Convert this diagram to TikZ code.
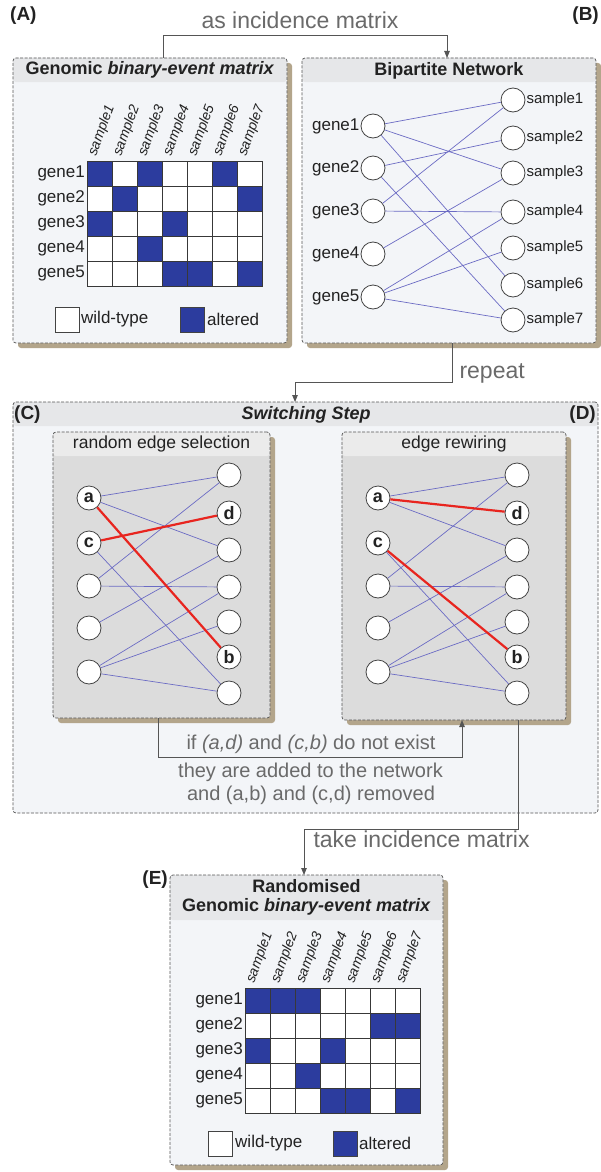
\documentclass[tikz,border=0pt]{standalone}
\usepackage{fontspec}
\setmainfont{Liberation Sans}
\usetikzlibrary{arrows.meta,shadows}
\definecolor{pfill}{HTML}{F3F5F8}
\definecolor{bandc}{HTML}{E6E7E9}
\definecolor{innerc}{HTML}{DCDCDC}
\definecolor{innerband}{HTML}{EBEBEB}
\definecolor{shadc}{HTML}{B3A58B}
\definecolor{bordc}{HTML}{555555}
\definecolor{altc}{HTML}{2C3C9E}
\definecolor{edgec}{HTML}{6B6BC4}
\definecolor{redc}{HTML}{E8251F}
\definecolor{greyt}{HTML}{6A6A6A}
\definecolor{darkt}{HTML}{222222}
\newcommand\fs[1]{\fontsize{#1}{#1}\selectfont}
\newcommand\bematrix[4]{%
  \foreach \row [count=\r] in {#4} {
    \node[rowl] (#1-g\r) at ({#2-1},{#3+25*\r-12.5}) {gene\r};
    \foreach \v [count=\c] in \row {
      \ifnum\v=1 \def\cc{altc}\else\def\cc{white}\fi
      \node[cell, fill=\cc] (#1-\r-\c) at ({#2+25*\c-25},{#3+25*\r-25}) {};
    }
  }
  \foreach \c in {1,...,7} \node[coll] (#1-s\c) at ({#2+25*\c-16},{#3-4}) {sample\c};
}
\begin{document}
\begin{tikzpicture}[x=1pt,y=-1pt,
  panel/.style={draw=bordc, dash pattern=on 3pt off 1.5pt, line width=0.7pt, rounded corners=3pt, fill=pfill, anchor=north west, inner sep=0pt, outer sep=0pt},
  shad/.style={general shadow={fill=shadc, shadow xshift=5pt, shadow yshift=-5pt}},
  band/.style 2 args={path picture={\fill[#2] (path picture bounding box.north west) rectangle ([yshift=-#1]path picture bounding box.north east);}},
  nd/.style={circle, draw=darkt!85, line width=0.8pt, fill=white, minimum size=24pt, inner sep=0pt, font=\bfseries\fs{18}, text=darkt},
  ed/.style={draw=edgec, line width=0.7pt},
  rd/.style={draw=redc, line width=2.2pt},
  cell/.style={draw=darkt!90, line width=0.8pt, minimum size=25pt, inner sep=0pt, anchor=north west},
  rowl/.style={anchor=east, font=\fs{17}, text=darkt, inner sep=1pt},
  coll/.style={anchor=base west, rotate=70, font=\itshape\fs{14}, text=darkt, inner sep=0pt},
  leg/.style={draw=darkt!85, line width=0.8pt, minimum width=24pt, minimum height=25pt, anchor=north west, inner sep=0pt},
  legt/.style={anchor=west, font=\fs{17}, text=darkt, inner sep=1pt},
  conn/.style={draw=bordc, line width=0.9pt},
  arr/.style={-{Triangle[length=7pt,width=5.5pt]}},
  glabel/.style={font=\fs{23}, text=greyt},
  plabel/.style={font=\bfseries\fs{19}, text=darkt, inner sep=0pt},
  ttl/.style={font=\bfseries\fs{18}, text=darkt},
  gl/.style={anchor=east, font=\fs{17}, text=darkt, inner sep=1pt},
  sl/.style={anchor=west, font=\fs{15}, text=darkt, inner sep=1pt},
]
\path[use as bounding box, fill=white] (0,0) rectangle (601,1172);

% ---------- panel A ----------
\node[panel, shad, band={24pt}{bandc}, minimum width=274pt, minimum height=285pt] (A) at (13,58) {};
\node[plabel, anchor=west] (labA) at (10,16) {(A)};
\node[ttl] (tA) at (150,70) {Genomic \textit{binary-event matrix}};
\bematrix{ma}{87}{161}{{1,0,1,0,0,1,0},{0,1,0,0,0,0,1},{1,0,0,1,0,0,0},{0,0,1,0,0,0,0},{0,0,0,1,1,0,1}}
\node[leg, fill=white] (wA) at (55,307) {};
\node[legt] (wtA) at (80,319.5) {wild-type};
\node[leg, fill=altc] (aA) at (180,307) {};
\node[legt] (atA) at (206,319.5) {altered};

% ---------- panel B ----------
\node[panel, shad, band={24pt}{bandc}, minimum width=294pt, minimum height=285pt] (B) at (302,58) {};
\node[plabel, anchor=east] (labB) at (599,16) {(B)};
\node[ttl] (tB) at (449,71) {Bipartite Network};
\foreach \y [count=\i] in {126,168,211,254,297} {
  \node[nd] (b-g\i) at (373,\y) {};
  \node[gl] (b-gl\i) at (b-g\i.west) {gene\i};
}
\foreach \y [count=\i] in {100,138,173,212,248,285,320} {
  \node[nd] (b-s\i) at (513,\y) {};
  \node[sl] (b-sl\i) at (b-s\i.east) {sample\i};
}
\foreach \a/\b in {1/1,1/3,1/6,2/2,2/7,3/1,3/4,4/3,5/4,5/5,5/7}
  \draw[ed] (b-g\a) -- (b-s\b);

% arrow A -> B
\coordinate (ab1) at (163,35);
\coordinate (ab2) at (447,35);
\draw[conn, arr] (A.north -| ab1) -- (ab1) -- (ab2) -- (B.north -| ab2);
\node[glabel, anchor=base] (tab) at (300,29) {as incidence matrix};

% ---------- panel C/D ----------
\node[panel, band={24pt}{bandc}, minimum width=585pt, minimum height=411pt] (C) at (13,402) {};
\node[plabel, anchor=west] (labC) at (14,415) {(C)};
\node[plabel, anchor=east] (labD) at (596,415) {(D)};
\node[ttl] (tC) at (306,415) {\textit{Switching Step}};

% repeat arrow
\coordinate (r1) at (452,382);
\coordinate (r2) at (295,382);
\draw[conn, arr] (B.south -| r1) -- (r1) -- (r2) -- (C.north -| r2);
\node[glabel, anchor=base west] (trep) at (456,378) {repeat};

% inner C
\node[panel, shad, fill=innerc, band={24pt}{innerband}, minimum width=217pt, minimum height=286pt] (Cin) at (53,432) {};
\node[font=\fs{17.5}, text=darkt] (tCin) at (161.5,444) {random edge selection};
\foreach \y/\t [count=\i] in {498/a,543/c,586/{},628/{},672/{}}
  \node[nd] (c-g\i) at (89,\y) {\t};
\foreach \y/\t [count=\i] in {475/{},513/d,550/{},587/{},622/{},657/b,693/{}}
  \node[nd] (c-s\i) at (229,\y) {\t};
\foreach \a/\b in {1/1,1/3,2/7,3/1,3/4,4/3,5/4,5/5,5/7}
  \draw[ed] (c-g\a) -- (c-s\b);
\draw[rd] (c-g1) -- (c-s6);
\draw[rd] (c-g2) -- (c-s2);

% inner D
\node[panel, shad, fill=innerc, band={24pt}{innerband}, minimum width=224pt, minimum height=288pt] (Din) at (342,432) {};
\node[font=\fs{17.5}, text=darkt] (tDin) at (454,444) {edge rewiring};
\foreach \y/\t [count=\i] in {498/a,543/c,586/{},628/{},672/{}}
  \node[nd] (d-g\i) at (378,\y) {\t};
\foreach \y/\t [count=\i] in {475/{},513/d,550/{},587/{},622/{},657/b,693/{}}
  \node[nd] (d-s\i) at (517,\y) {\t};
\foreach \a/\b in {1/1,1/3,2/7,3/1,3/4,4/3,5/4,5/5,5/7}
  \draw[ed] (d-g\a) -- (d-s\b);
\draw[rd] (d-g1) -- (d-s2);
\draw[rd] (d-g2) -- (d-s6);

% switching connector
\coordinate (s1) at (158,757);
\coordinate (s2) at (462,757);
\draw[conn, arr] (Cin.south -| s1) -- (s1) -- (s2) -- (Din.south -| s2);
\node[font=\fs{20}, text=greyt, anchor=base] (sw1) at (311,749) {if \textit{(a,d)} and \textit{(c,b)} do not exist};
\node[font=\fs{20}, text=greyt, anchor=base] (sw2) at (310.5,777) {they are added to the network};
\node[font=\fs{20}, text=greyt, anchor=base] (sw3) at (311,800) {and (a,b) and (c,d) removed};

% ---------- panel E ----------
\node[panel, shad, band={45pt}{bandc}, minimum width=273pt, minimum height=290pt] (E) at (170,875) {};
\node[plabel, anchor=east] (labE) at (168,880) {(E)};
\node[ttl, align=center, font=\bfseries\fontsize{18}{19}\selectfont] (tE) at (306.5,897.5) {Randomised\\Genomic \textit{binary-event matrix}};
\bematrix{me}{245}{988}{{1,1,1,0,0,0,0},{0,0,0,0,0,1,1},{1,0,0,1,0,0,0},{0,0,1,0,0,0,0},{0,0,0,1,1,0,1}}
\node[leg, fill=white] (wE) at (208,1131) {};
\node[legt] (wtE) at (234,1143.5) {wild-type};
\node[leg, fill=altc] (aE) at (333,1131) {};
\node[legt] (atE) at (358,1143.5) {altered};

% take incidence matrix arrow
\coordinate (t1) at (518,829);
\coordinate (t2) at (304,829);
\draw[conn, arr] (Din.south -| t1) -- (t1) -- (t2) -- (E.north -| t2);
\node[glabel, anchor=base west] (ttake) at (310,847) {take incidence matrix};
\end{tikzpicture}
\end{document}
